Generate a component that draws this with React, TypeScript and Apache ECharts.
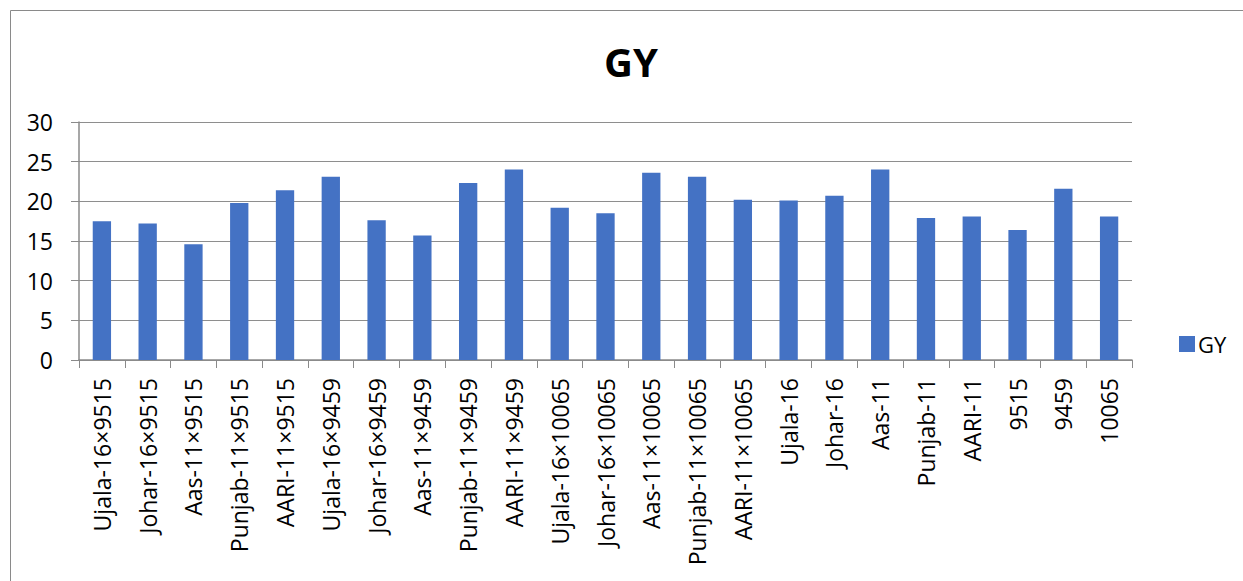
import React, { useEffect, useRef } from "react";
import * as echarts from "echarts";

const categories = [
  "Ujala-16×9515", "Johar-16×9515", "Aas-11×9515", "Punjab-11×9515", "AARI-11×9515",
  "Ujala-16×9459", "Johar-16×9459", "Aas-11×9459", "Punjab-11×9459", "AARI-11×9459",
  "Ujala-16×10065", "Johar-16×10065", "Aas-11×10065", "Punjab-11×10065", "AARI-11×10065",
  "Ujala-16", "Johar-16", "Aas-11", "Punjab-11", "AARI-11", "9515", "9459", "10065",
];
const gyValues = [
  17.5, 17.2, 14.6, 19.8, 21.4, 23.1, 17.6, 15.7, 22.3, 24.0, 19.2, 18.5,
  23.6, 23.1, 20.2, 20.1, 20.7, 24.0, 17.9, 18.1, 16.4, 21.6, 18.1,
];
const seriesName = "GY";
const titleText = "GY";

const FONT = "'Open Sans', 'Noto Sans', sans-serif";

export default function App() {
  const ref = useRef<HTMLDivElement>(null);
  useEffect(() => {
    if (!ref.current) return;
    const chart = echarts.init(ref.current, undefined, { renderer: "svg" });
    chart.setOption({
      animation: false,
      backgroundColor: "#ffffff",
      title: {
        text: titleText,
        left: 626,
        textAlign: "center",
        top: 36,
        textStyle: { fontFamily: FONT, fontSize: 40, fontWeight: "bold", color: "#000" },
      },
      legend: {
        data: [seriesName],
        left: 1174,
        top: 328,
        itemWidth: 16,
        itemHeight: 16,
        itemGap: 6,
        icon: "rect",
        textStyle: { fontFamily: FONT, fontSize: 22, color: "#000", padding: [0, 0, 0, -2] },
      },
      graphic: [
        {
          type: "rect",
          shape: { x: 10.5, y: 10.5, width: 1400, height: 800 },
          style: { fill: "none", stroke: "#8a8a8a", lineWidth: 1 },
          silent: true,
        },
      ],
      grid: { left: 79, top: 122, width: 1053, height: 238, containLabel: false },
      xAxis: {
        type: "category",
        data: categories,
        axisLine: { show: true, lineStyle: { color: "#8a8a8a", width: 1.5 } },
        axisTick: { show: true, alignWithLabel: false, length: 8, lineStyle: { color: "#8a8a8a" } },
        axisLabel: {
          rotate: 90,
          interval: 0,
          margin: 18,
          fontFamily: FONT,
          fontSize: 23,
          color: "#000",
        },
      },
      yAxis: {
        type: "value",
        min: 0,
        max: 30,
        interval: 5,
        axisLine: { show: true, lineStyle: { color: "#8a8a8a", width: 1.5 } },
        axisTick: { show: true, length: 8, lineStyle: { color: "#8a8a8a" } },
        splitLine: { show: true, lineStyle: { color: "#8e8e8e", width: 1 } },
        axisLabel: { margin: 26, fontFamily: FONT, fontSize: 23, color: "#000" },
      },
      series: [
        {
          name: seriesName,
          type: "bar",
          data: gyValues,
          barCategoryGap: "60%",
          itemStyle: { color: "#4472C4" },
        },
      ],
    });
    return () => chart.dispose();
  }, []);
  return (
    <div
      ref={ref}
      style={{ position: "absolute", left: 0, top: 0, width: 1243, height: 581 }}
    />
  );
}
